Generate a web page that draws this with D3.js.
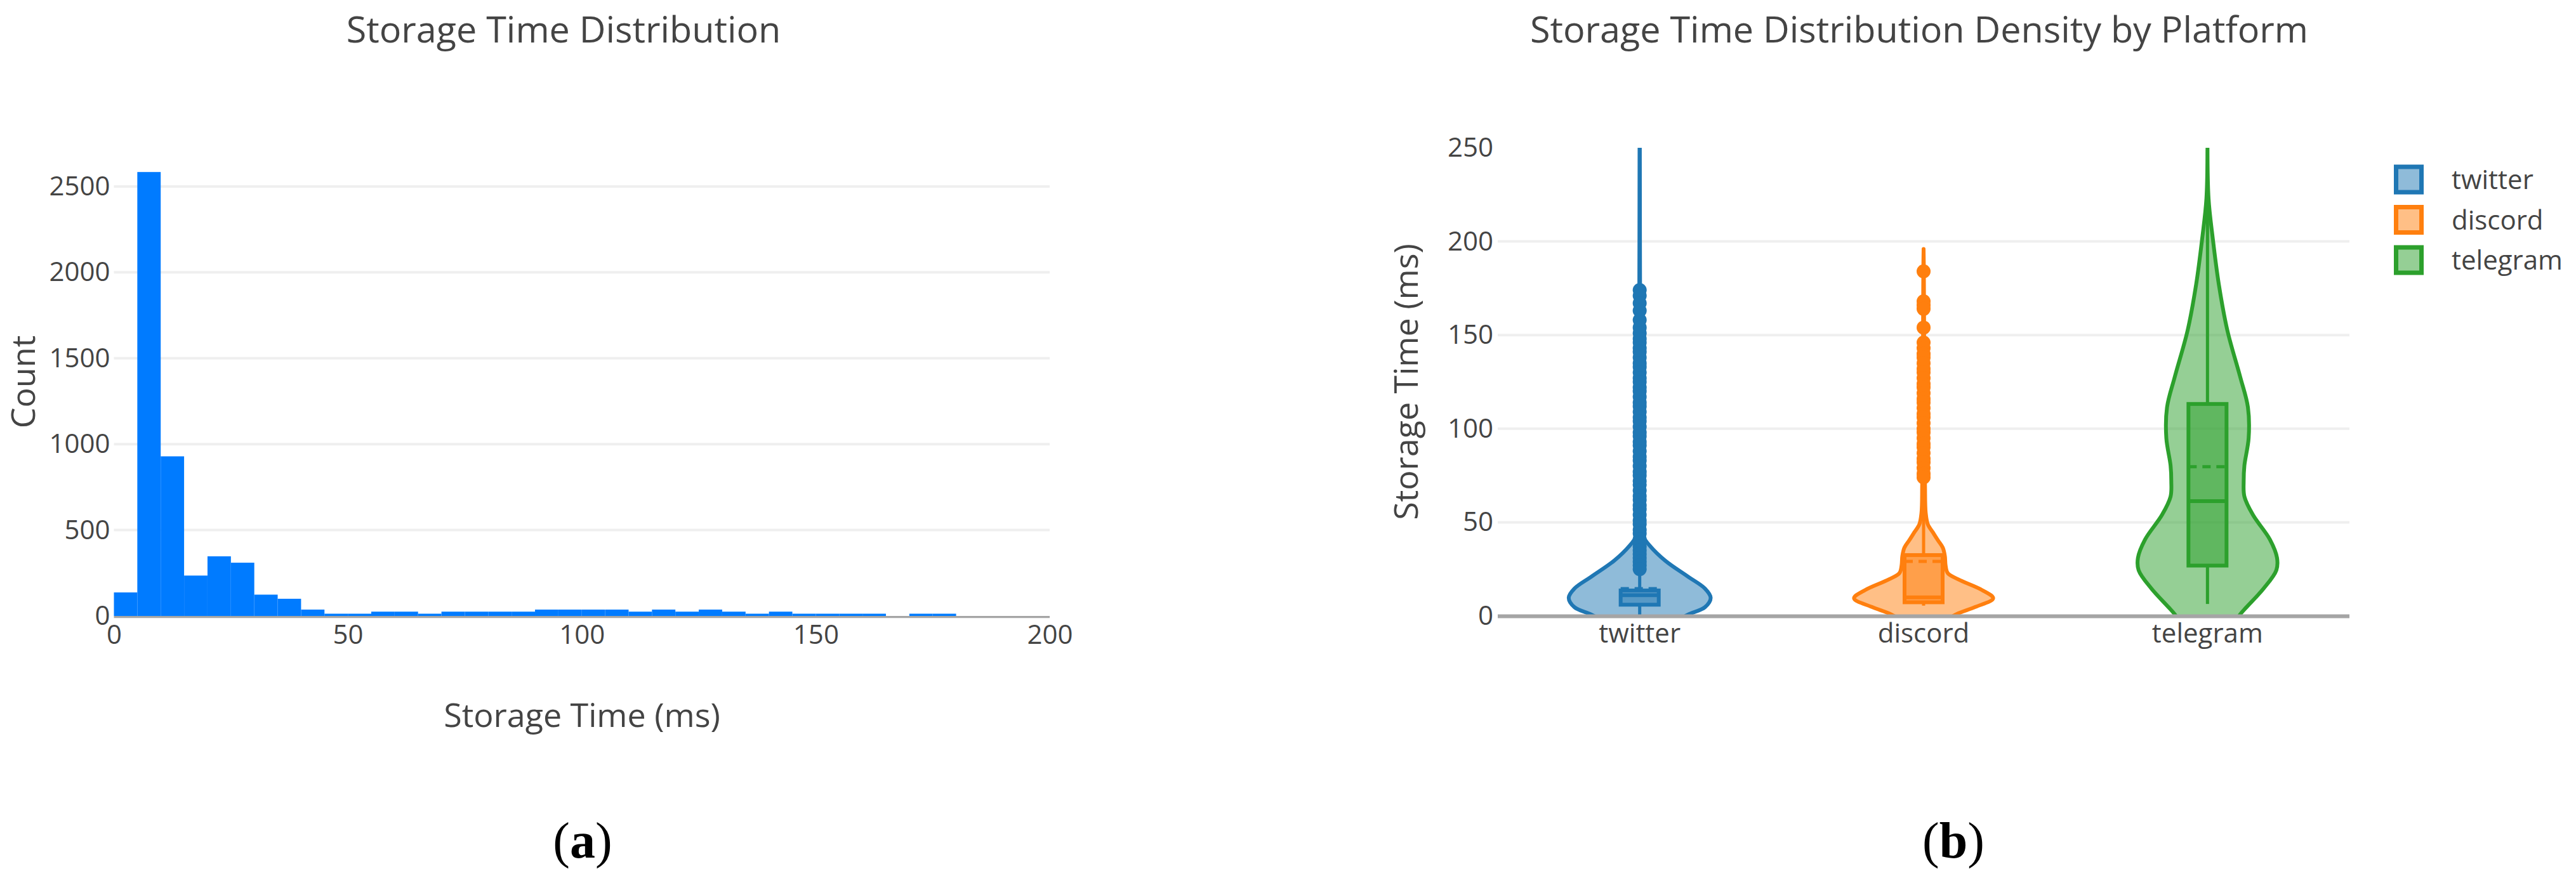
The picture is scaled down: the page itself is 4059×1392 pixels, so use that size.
<!DOCTYPE html>
<html>
<head>
<meta charset="utf-8">
<script src="https://cdnjs.cloudflare.com/ajax/libs/d3/7.8.5/d3.min.js"></script>
<style>
  body { margin: 0; background: #fff; }
  text { font-family: "Open Sans", sans-serif; fill: #444; }
</style>
</head>
<body>
<svg id="chart" width="4059" height="1392"></svg>
<script>
// ---- (a) histogram: 5 ms bins ----
const binStarts = [0, 5, 10, 15, 20, 25, 30, 35, 40, 45, 50, 55, 60, 65, 70, 75, 80, 85, 90, 95,
                   100, 105, 110, 115, 120, 125, 130, 135, 140, 145, 150, 155, 160, 165, 170, 175, 180, 185, 190, 195];
const binCounts = [137, 2584, 929, 235, 347, 310, 124, 100, 37, 13, 13, 25, 25, 13, 25, 25, 25, 25, 37, 37,
                   37, 37, 25, 37, 25, 37, 25, 13, 25, 13, 13, 13, 13, 0, 13, 13, 0, 0, 0, 0];
const histXTicks = [0, 50, 100, 150, 200];
const histYTicks = [0, 500, 1000, 1500, 2000, 2500];

// ---- (b) violins by platform ----
const platforms = ["twitter", "discord", "telegram"];
const boxQ1 = [6.0, 7.3, 26.9];
const boxMedian = [11.1, 9.9, 61.3];
const boxQ3 = [13.6, 32.5, 113.2];
const boxMean = [14.6, 29.1, 79.7];
const whiskerLow = [0, 5.5, 6.4];
const whiskerHigh = [25, 70.3, 249];
const violinYTicks = [0, 50, 100, 150, 200, 250];

// [value, relative density]
const twitterDensity = [[-4, 0.45], [0.7, 0.68], [4.7, 0.92], [9.7, 1.0], [14.6, 0.92], [21, 0.68], [29.5, 0.36],
  [37.6, 0.14], [42.5, 0.05], [48, 0.025], [60, 0.016], [90, 0.012], [130, 0.01], [170, 0.006], [200, 0.004], [256, 0.002]];
const discordDensity = [[-4, 0.25], [0.9, 0.46], [4.8, 0.73], [9.4, 0.98], [13.9, 0.82], [19.5, 0.49], [22.9, 0.34],
  [27, 0.31], [31.9, 0.30], [36.5, 0.27], [40.5, 0.2], [44.4, 0.135], [48.9, 0.06], [55, 0.03], [70, 0.02],
  [100, 0.012], [150, 0.008], [185, 0.004], [196, 0]];
const telegramDensity = [[-4, 0.38], [0.8, 0.46], [4.7, 0.55], [14.6, 0.79], [24.4, 0.97], [31, 0.98], [40.8, 0.88],
  [54, 0.64], [63.8, 0.52], [72, 0.51], [80.3, 0.52], [95, 0.58], [111.4, 0.57], [127.8, 0.46], [152.5, 0.28],
  [177, 0.16], [201.8, 0.074], [223, 0.015], [256, 0]];

const twitterOutliers = [174, 171, 167, 163, 158, 154, 151, 148, 146, 143, 141, 138, 135, 133, 130, 127, 125, 122,
  120, 117, 114, 112, 109, 106, 104, 101, 98, 96, 93, 91, 88, 85, 83, 80, 77, 75, 72, 70, 67, 64, 62, 59, 57, 54,
  51, 49, 46, 44, 41, 39, 37, 35, 33, 31, 29, 27, 25];
const discordOutliers = [184, 168, 166, 164, 154, 146, 143, 140, 138, 135, 132, 130, 127, 124, 122, 119, 116, 114,
  111, 108, 106, 103, 100, 98, 95, 92, 90, 87, 84, 82, 79, 76, 74];

const densities = [twitterDensity, discordDensity, telegramDensity];
const outliers = [twitterOutliers, discordOutliers, []];
const colors = ["#1f77b4", "#ff7f0e", "#2ca02c"];

const svg = d3.select("#chart");
svg.append("rect").attr("width", 4059).attr("height", 1392).attr("fill", "#fff");

// ================= panel (a) =================
const xH = d3.scaleLinear().domain([0, 200]).range([179.5, 1654]);
const yH = d3.scaleLinear().domain([0, 2725]).range([971, 233]);

const gA = svg.append("g");

gA.append("g").selectAll("line")
  .data(histYTicks.filter(d => d > 0))
  .join("line")
  .attr("x1", xH(0)).attr("x2", xH(200))
  .attr("y1", d => yH(d)).attr("y2", d => yH(d))
  .attr("stroke", "#efefef").attr("stroke-width", 4);

gA.append("g").selectAll("rect")
  .data(binStarts.map((s, i) => ({ s: s, c: binCounts[i] })).filter(d => d.c > 0))
  .join("rect")
  .attr("x", d => xH(d.s))
  .attr("width", d => xH(d.s + 5) - xH(d.s))
  .attr("y", d => yH(d.c))
  .attr("height", d => yH(0) - yH(d.c))
  .attr("fill", "#007bff");

gA.append("line")
  .attr("x1", xH(0)).attr("x2", xH(200))
  .attr("y1", yH(0) + 1.6).attr("y2", yH(0) + 1.6)
  .attr("stroke", "#a5a5a5").attr("stroke-width", 3.2);

const axYH = gA.append("g").attr("transform", `translate(${xH(0)},0)`)
  .call(d3.axisLeft(yH).tickValues(histYTicks).tickFormat(d3.format("d")).tickSize(0).tickPadding(6));
const axXH = gA.append("g").attr("transform", `translate(0,${yH(0)})`)
  .call(d3.axisBottom(xH).tickValues(histXTicks).tickFormat(d3.format("d")).tickSize(0).tickPadding(14));
[axYH, axXH].forEach(a => {
  a.select(".domain").remove();
  a.selectAll("text").style("font-size", "42px").attr("fill", "#444");
});

gA.append("text").attr("x", 888).attr("y", 67).attr("text-anchor", "middle")
  .style("font-size", "57.5px").text("Storage Time Distribution");
gA.append("text").attr("x", 917).attr("y", 1146).attr("text-anchor", "middle")
  .style("font-size", "52px").text("Storage Time (ms)");
gA.append("text").attr("transform", "translate(55,602) rotate(-90)").attr("text-anchor", "middle")
  .style("font-size", "52px").text("Count");

// ================= panel (b) =================
const xV = d3.scaleBand().domain(platforms).range([2360, 3702]);
const yV = d3.scaleLinear().domain([0, 250]).range([971, 233]);
const wV = d3.scaleLinear().domain([0, 1]).range([0, xV.bandwidth() * 0.25]);
const boxHalf = 30;

const gB = svg.append("g");

gB.append("g").selectAll("line")
  .data(violinYTicks.filter(d => d > 0 && d < 250))
  .join("line")
  .attr("x1", 2360).attr("x2", 3702)
  .attr("y1", d => yV(d)).attr("y2", d => yV(d))
  .attr("stroke", "#efefef").attr("stroke-width", 4);

svg.append("clipPath").attr("id", "plotB")
  .append("rect").attr("x", 2360).attr("y", 233).attr("width", 1342).attr("height", 738);

const plotB = gB.append("g").attr("clip-path", "url(#plotB)");

platforms.forEach((p, i) => {
  const cx = xV(p) + xV.bandwidth() / 2;
  const col = colors[i];
  const area = d3.area()
    .y(d => yV(d[0]))
    .x0(d => cx - wV(d[1]))
    .x1(d => cx + wV(d[1]))
    .curve(d3.curveCatmullRom);

  plotB.append("path").datum(densities[i])
    .attr("d", area)
    .attr("fill", col).attr("fill-opacity", 0.5)
    .attr("stroke", col).attr("stroke-width", 6).attr("stroke-linejoin", "round");

  // whiskers
  plotB.append("line").attr("x1", cx).attr("x2", cx)
    .attr("y1", yV(whiskerLow[i])).attr("y2", yV(boxQ1[i]))
    .attr("stroke", col).attr("stroke-width", 5);
  plotB.append("line").attr("x1", cx).attr("x2", cx)
    .attr("y1", yV(boxQ3[i])).attr("y2", yV(whiskerHigh[i]))
    .attr("stroke", col).attr("stroke-width", 5);

  // box
  plotB.append("rect")
    .attr("x", cx - boxHalf).attr("width", boxHalf * 2)
    .attr("y", yV(boxQ3[i])).attr("height", yV(boxQ1[i]) - yV(boxQ3[i]))
    .attr("fill", col).attr("fill-opacity", 0.5)
    .attr("stroke", col).attr("stroke-width", 6);
  plotB.append("line")
    .attr("x1", cx - boxHalf).attr("x2", cx + boxHalf)
    .attr("y1", yV(boxMedian[i])).attr("y2", yV(boxMedian[i]))
    .attr("stroke", col).attr("stroke-width", 6);
  plotB.append("line")
    .attr("x1", cx - boxHalf).attr("x2", cx + boxHalf)
    .attr("y1", yV(boxMean[i])).attr("y2", yV(boxMean[i]))
    .attr("stroke", col).attr("stroke-width", 5).attr("stroke-dasharray", "13,9");

  // outlier points
  plotB.append("g").selectAll("circle")
    .data(outliers[i])
    .join("circle")
    .attr("cx", cx).attr("cy", d => yV(d)).attr("r", 11)
    .attr("fill", col);
});

gB.append("line")
  .attr("x1", 2360).attr("x2", 3702)
  .attr("y1", yV(0) + 0.5).attr("y2", yV(0) + 0.5)
  .attr("stroke", "#a5a5a5").attr("stroke-width", 6);

const axYV = gB.append("g").attr("transform", "translate(2360,0)")
  .call(d3.axisLeft(yV).tickValues(violinYTicks).tickFormat(d3.format("d")).tickSize(0).tickPadding(7));
const axXV = gB.append("g").attr("transform", `translate(0,${yV(0)})`)
  .call(d3.axisBottom(xV).tickSize(0).tickPadding(12));
[axYV, axXV].forEach(a => {
  a.select(".domain").remove();
  a.selectAll("text").style("font-size", "42px").attr("fill", "#444");
});

gB.append("text").attr("x", 3024).attr("y", 67).attr("text-anchor", "middle")
  .style("font-size", "57.5px").text("Storage Time Distribution Density by Platform");
gB.append("text").attr("transform", "translate(2234,602) rotate(-90)").attr("text-anchor", "middle")
  .style("font-size", "52px").text("Storage Time (ms)");

// legend
const legendY = d3.scalePoint().domain(platforms).range([283, 410]);
const leg = gB.append("g").selectAll("g").data(platforms).join("g")
  .attr("transform", d => `translate(3772,${legendY(d)})`);
leg.append("rect")
  .attr("x", 3.5).attr("y", -20).attr("width", 40).attr("height", 40)
  .attr("fill", (d, i) => colors[i]).attr("fill-opacity", 0.5)
  .attr("stroke", (d, i) => colors[i]).attr("stroke-width", 7);
leg.append("text").attr("x", 91).attr("y", 15)
  .style("font-size", "42px").text(d => d);

// sub-figure labels
[["a", 918], ["b", 3078]].forEach(([l, x]) => {
  const t = svg.append("text").attr("x", x).attr("y", 1352).attr("text-anchor", "middle")
    .style("font-family", "'Liberation Serif', serif").style("font-size", "80px")
    .style("fill", "#000");
  t.append("tspan").text("(");
  t.append("tspan").style("font-weight", "bold").text(l);
  t.append("tspan").text(")");
});
</script>
</body>
</html>
